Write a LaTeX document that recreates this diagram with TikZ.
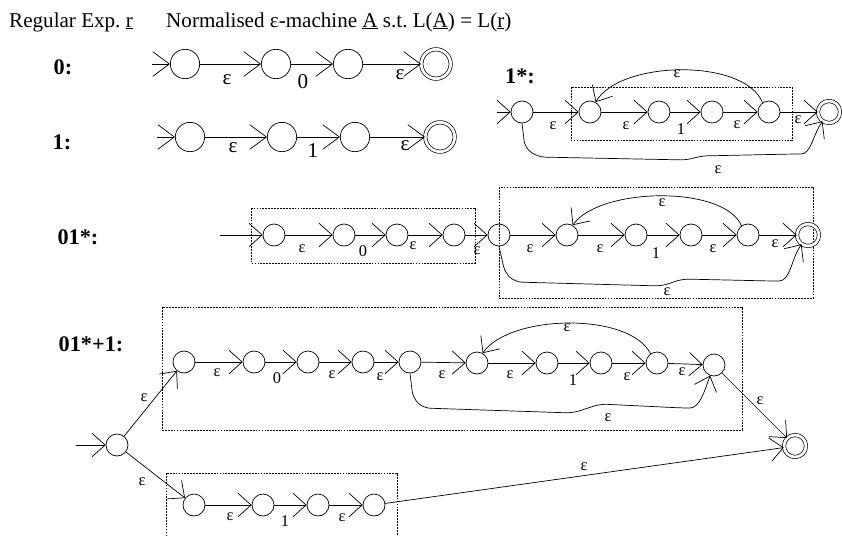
\documentclass[tikz,border=0pt]{standalone}
\usepackage{fontspec}
\setmainfont{Liberation Serif}
\usetikzlibrary{arrows.meta}
\tikzstyle{state}=[draw, circle, inner sep=0pt, minimum size=6.6mm, line width=0.6pt]
\tikzstyle{bigstate}=[state, minimum size=8.8mm]
\tikzstyle{accept}=[double, double distance=0.8mm]
\tikzstyle{trans}=[draw, line width=0.6pt, -{Straight Barb[length=3.9mm, width=7mm]}]
\tikzstyle{bigtrans}=[draw, line width=0.6pt, -{Straight Barb[length=5mm, width=7.4mm]}]
\tikzstyle{box}=[draw, line width=0.5pt, dash pattern=on 1.5pt off 1pt]
\tikzstyle{lab}=[inner sep=0pt, font=\fontsize{14}{14}\selectfont]
\tikzstyle{biglab}=[inner sep=0pt, font=\fontsize{18}{18}\selectfont]
\tikzstyle{title}=[inner sep=0pt, font=\fontsize{19}{19}\selectfont\bfseries]

\begin{document}
\begin{tikzpicture}[x=0.3mm, y=-0.3mm]
  \useasboundingbox (0,0) rectangle (842,536);

  % heading
  \node[biglab, anchor=west] (hr) at (9,22) {Regular Exp.\ \underline{r}};
  \node[biglab, anchor=west] (hm) at (166,22) {Normalised ε-machine \underline{A} s.t.\ L(\underline{A}) = L(\underline{r})};

  % ---- 0 ----
  \node[title] (t0) at (63,67) {0:};
  \begin{scope}[every node/.style={bigstate}]
    \node (a1) at (185,64) {};
    \node (a2) at (276,64) {};
    \node (a3) at (348,64) {};
    \node[accept] (a4) at (436,64) {};
  \end{scope}
  \coordinate (a0) at (152,64);
  \begin{scope}[every path/.style={bigtrans}]
    \path (a0) -- (a1);
    \path (a1) -- (a2);
    \path (a2) -- (a3);
    \path (a3) -- (a4);
  \end{scope}
  \node[biglab] (la1) at (227,80) {ε};
  \node[biglab] (la2) at (303,82) {0};
  \node[biglab] (la3) at (400,75) {ε};

  % ---- 1 ----
  \node[title] (t1) at (62,142) {1:};
  \begin{scope}[every node/.style={bigstate}]
    \node (b1) at (190,137) {};
    \node (b2) at (282,137) {};
    \node (b3) at (355,137) {};
    \node[accept] (b4) at (440,137) {};
  \end{scope}
  \coordinate (b0) at (157,137);
  \begin{scope}[every path/.style={bigtrans}]
    \path (b0) -- (b1);
    \path (b1) -- (b2);
    \path (b2) -- (b3);
    \path (b3) -- (b4);
  \end{scope}
  \node[biglab] (lb1) at (233,148) {ε};
  \node[biglab] (lb2) at (313,151) {1};
  \node[biglab] (lb3) at (405,146) {ε};

  % ---- 1* ----
  \node[title] (t2) at (520,76) {1*:};
  \draw[box] (571,87) rectangle (792,140);
  \begin{scope}[every node/.style={state}]
    \node (c0) at (522,112) {};
    \node (c1) at (590,112) {};
    \node (c2) at (659,112) {};
    \node (c3) at (712,112) {};
    \node (c4) at (769,112) {};
    \node[accept] (c5) at (829,112) {};
  \end{scope}
  \coordinate (cin) at (497,112);
  \begin{scope}[every path/.style={trans}]
    \path (cin) -- (c0);
    \path (c0) -- (c1);
    \path (c1) -- (c2);
    \path (c2) -- (c3);
    \path (c3) -- (c4);
    \path (c4) -- (c5);
    \path (c4.125) .. controls (745,58) and (620,60) .. (c1.60);
    \path[rounded corners=6pt] (c0.south) -- (525,148) -- (538,157) -- (688,160)
      -- (700,156) -- (794,154) to[out=0, in=235] (c5.235);
  \end{scope}
  \node[lab] (lc1) at (553,126) {ε};
  \node[lab] (lc2) at (626,126) {ε};
  \node[lab] (lc3) at (681,129) {1};
  \node[lab] (lc4) at (737,125) {ε};
  \node[lab] (lc5) at (798,120) {ε};
  \node[lab] (lc6) at (677,74) {ε};
  \node[lab] (lc7) at (718,170) {ε};

  % ---- 01* ----
  \node[title] (t3) at (78,237) {01*:};
  \draw[box] (251,208) rectangle (475,263);
  \draw[box] (499,187) rectangle (813,298);
  \begin{scope}[every node/.style={state}]
    \node (d1) at (274,235) {};
    \node (d2) at (344,235) {};
    \node (d3) at (397,235) {};
    \node (d4) at (454,235) {};
    \node (d5) at (499,235) {};
    \node (e1) at (567,235) {};
    \node (e2) at (636,235) {};
    \node (e3) at (691,235) {};
    \node (e4) at (748,235) {};
    \node[accept] (e5) at (808,235) {};
  \end{scope}
  \coordinate (din) at (220,235);
  \begin{scope}[every path/.style={trans}]
    \path (din) -- (d1);
    \path (d1) -- (d2);
    \path (d2) -- (d3);
    \path (d3) -- (d4);
    \path (d4) -- (d5);
    \path (d5) -- (e1);
    \path (e1) -- (e2);
    \path (e2) -- (e3);
    \path (e3) -- (e4);
    \path (e4) -- (e5);
    \path (e4.125) .. controls (724,185) and (600,187) .. (e1.60);
    \path[rounded corners=6pt] (d5.south) -- (505,273) -- (515,282) -- (662,286)
      -- (682,279) -- (772,281) to[out=0, in=235] (e5.235);
  \end{scope}
  \node[lab] (ld1) at (302,249) {ε};
  \node[lab] (ld2) at (363,251) {0};
  \node[lab] (ld3) at (413,246) {ε};
  \node[lab] (ld4) at (477,251) {ε};
  \node[lab] (ld5) at (530,249) {ε};
  \node[lab] (ld6) at (600,249) {ε};
  \node[lab] (ld7) at (656,253) {1};
  \node[lab] (ld8) at (713,249) {ε};
  \node[lab] (ld9) at (775,244) {ε};
  \node[lab] (ld10) at (662,203) {ε};
  \node[lab] (ld11) at (667,292) {ε};

  % ---- 01*+1 ----
  \node[title] (t4) at (91,344) {01*+1:};
  \draw[box] (162,307) rectangle (742,430);
  \draw[box] (166,473) rectangle (397,545);
  \begin{scope}[every node/.style={state}]
    \node (s) at (117,445) {};
    \node (f1) at (184,362) {};
    \node (f2) at (254,362) {};
    \node (f3) at (308,362) {};
    \node (f4) at (363,362) {};
    \node (f5) at (410,362) {};
    \node (f6) at (477,363) {};
    \node (f7) at (547,363) {};
    \node (f8) at (601,363) {};
    \node (f9) at (657,363) {};
    \node (f10) at (714,365) {};
    \node (g1) at (194,505) {};
    \node (g2) at (263,505) {};
    \node (g3) at (318,505) {};
    \node (g4) at (374,505) {};
    \node[accept] (ff) at (795,446) {};
  \end{scope}
  \coordinate (sin) at (76,445);
  \begin{scope}[every path/.style={trans}]
    \path (sin) -- (s);
    \path (s) -- (f1);
    \path (s) -- (g1);
    \path (f1) -- (f2);
    \path (f2) -- (f3);
    \path (f3) -- (f4);
    \path (f4) -- (f5);
    \path (f5) -- (f6);
    \path (f6) -- (f7);
    \path (f7) -- (f8);
    \path (f8) -- (f9);
    \path (f9) -- (f10);
    \path (f9.125) .. controls (630,312) and (510,314) .. (f6.60);
    \path[rounded corners=6pt] (f5.south) -- (413,398) -- (423,408) -- (573,413)
      -- (600,404) -- (683,408) to[out=0, in=250] (f10.250);
    \path (f10) -- (ff);
    \path (g1) -- (g2);
    \path (g2) -- (g3);
    \path (g3) -- (g4);
    \path (g4) -- (ff);
  \end{scope}
  \node[lab] (lf1) at (217,373) {ε};
  \node[lab] (lf2) at (277,378) {0};
  \node[lab] (lf3) at (332,375) {ε};
  \node[lab] (lf4) at (380,377) {ε};
  \node[lab] (lf5) at (442,375) {ε};
  \node[lab] (lf6) at (510,375) {ε};
  \node[lab] (lf7) at (573,380) {1};
  \node[lab] (lf8) at (627,377) {ε};
  \node[lab] (lf9) at (682,372) {ε};
  \node[lab] (lf10) at (567,328) {ε};
  \node[lab] (lf11) at (608,418) {ε};
  \node[lab] (lf12) at (760,401) {ε};
  \node[lab] (ls1) at (144,398) {ε};
  \node[lab] (ls2) at (142,482) {ε};
  \node[lab] (lg1) at (230,517) {ε};
  \node[lab] (lg2) at (285,521) {1};
  \node[lab] (lg3) at (342,518) {ε};
  \node[lab] (lg4) at (584,467) {ε};
\end{tikzpicture}
\end{document}
